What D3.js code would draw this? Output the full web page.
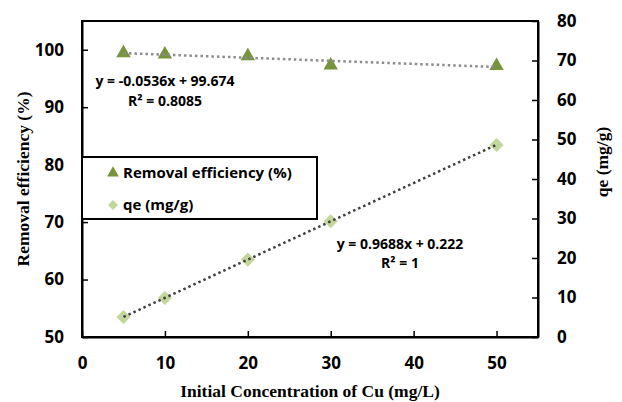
<!DOCTYPE html>
<html>
<head>
<meta charset="utf-8">
<script src="https://cdn.jsdelivr.net/npm/d3@7"></script>
<style>
  body { margin: 0; background: #fff; }
  .tick text { font-family: "Open Sans", sans-serif; font-weight: 700; font-size: 17px; fill: #000; }
  .axisTitle { font-family: "Liberation Serif", serif; font-weight: 700; font-size: 17.5px; fill: #000; }
  .eqText { font-family: "Open Sans", sans-serif; font-weight: 700; font-size: 14px; fill: #000; }
  .legendText { font-family: "Open Sans", sans-serif; font-weight: 700; font-size: 15px; fill: #000; }
</style>
</head>
<body>
<div id="chart"></div>
<script>
// data
let concentration = [5, 10, 20, 30, 50];
let removalEff = [99.4, 99.2, 98.9, 97.3, 97.2];
let qe = [5.07, 9.9, 19.6, 29.3, 48.6];
let xTicks = [0, 10, 20, 30, 40, 50];
let leftTicks = [50, 60, 70, 80, 90, 100];
let rightTicks = [0, 10, 20, 30, 40, 50, 60, 70, 80];
let removalFit = { slope: -0.0536, icpt: 99.674, label: "y = -0.0536x + 99.674", r2: "R² = 0.8085" };
let qeFit = { slope: 0.9688, icpt: 0.222, label: "y = 0.9688x + 0.222", r2: "R² = 1" };
let seriesNames = ["Removal efficiency (%)", "qe (mg/g)"];

let svgWidth = 622;
let svgHeight = 402;
let margin = { top: 21, right: 84, bottom: 65, left: 82 };
let plot_width = svgWidth - margin.left - margin.right;
let plot_height = svgHeight - margin.top - margin.bottom;

let svg = d3.select("#chart").append("svg")
  .attr("width", svgWidth)
  .attr("height", svgHeight);

let chartGroup = svg.append("g")
  .attr("transform", `translate(${margin.left}, ${margin.top})`);

let x = d3.scaleLinear().domain([0, 55]).range([0, plot_width]);
let yLeft = d3.scaleLinear().domain([50, 105]).range([plot_height, 0]);
let yRight = d3.scaleLinear().domain([0, 80]).range([plot_height, 0]);

// frame
chartGroup.append("rect")
  .attr("width", plot_width).attr("height", plot_height)
  .attr("fill", "none").attr("stroke", "#000").attr("stroke-width", 2);

// axes, ticks pointing inwards
let bottomAxis = d3.axisBottom(x).tickValues(xTicks).tickSizeInner(-6).tickSizeOuter(0).tickPadding(20);
let leftAxis = d3.axisLeft(yLeft).tickValues(leftTicks).tickSizeInner(-6).tickSizeOuter(0).tickPadding(18);
let rightAxis = d3.axisRight(yRight).tickValues(rightTicks).tickSizeInner(-6).tickSizeOuter(0).tickPadding(19);

function styleAxis(g) {
  g.select(".domain").attr("stroke", "#000").attr("stroke-width", 2);
  g.selectAll(".tick line").attr("stroke", "#000").attr("stroke-width", 1.5);
}

chartGroup.append("g").attr("transform", `translate(0, ${plot_height})`).call(bottomAxis).call(styleAxis);
chartGroup.append("g").call(leftAxis).call(styleAxis);
chartGroup.append("g").attr("transform", `translate(${plot_width}, 0)`).call(rightAxis).call(styleAxis);

// markers
let tri = d3.symbol().type(d3.symbolTriangle).size(90);
let dia = d3.symbol().type(d3.symbolSquare).size(100);

chartGroup.selectAll(".tri").data(concentration).enter().append("path")
  .attr("class", "tri")
  .attr("d", tri)
  .attr("transform", (d, i) => `translate(${x(d)}, ${yLeft(removalEff[i])})`)
  .attr("fill", "#77933c");

chartGroup.selectAll(".dia").data(concentration).enter().append("path")
  .attr("class", "dia")
  .attr("d", dia)
  .attr("transform", (d, i) => `translate(${x(d)}, ${yRight(qe[i])}) rotate(45)`)
  .attr("fill", "#c3d69b");

// trend lines
let x0 = d3.min(concentration), x1 = d3.max(concentration);
chartGroup.append("line")
  .attr("x1", x(x0)).attr("y1", yLeft(removalFit.icpt + removalFit.slope * x0))
  .attr("x2", x(x1)).attr("y2", yLeft(removalFit.icpt + removalFit.slope * x1))
  .attr("stroke", "#8c8c8c").attr("stroke-width", 2.5).attr("stroke-dasharray", "2.5,3");

chartGroup.append("line")
  .attr("x1", x(x0)).attr("y1", yRight(qeFit.icpt + qeFit.slope * x0))
  .attr("x2", x(x1)).attr("y2", yRight(qeFit.icpt + qeFit.slope * x1))
  .attr("stroke", "#404040").attr("stroke-width", 2.5).attr("stroke-dasharray", "2.5,3");

// equations
chartGroup.append("text").attr("class", "eqText").attr("x", 83).attr("y", 65).attr("text-anchor", "middle").text(removalFit.label);
chartGroup.append("text").attr("class", "eqText").attr("x", 83).attr("y", 85).attr("text-anchor", "middle").text(removalFit.r2);
chartGroup.append("text").attr("class", "eqText").attr("x", 318).attr("y", 228).attr("text-anchor", "middle").text(qeFit.label);
chartGroup.append("text").attr("class", "eqText").attr("x", 318).attr("y", 247).attr("text-anchor", "middle").text(qeFit.r2);

// legend
let legend = chartGroup.append("g").attr("transform", "translate(0, 136)");
legend.append("rect").attr("width", 235).attr("height", 62)
  .attr("fill", "#fff").attr("stroke", "#000").attr("stroke-width", 2);
legend.append("path").attr("d", d3.symbol().type(d3.symbolTriangle).size(60))
  .attr("transform", "translate(31, 16)").attr("fill", "#77933c");
legend.append("path").attr("d", d3.symbol().type(d3.symbolSquare).size(50))
  .attr("transform", "translate(31, 48) rotate(45)").attr("fill", "#c3d69b");
legend.append("text").attr("class", "legendText").attr("x", 41).attr("y", 21).text(seriesNames[0]);
legend.append("text").attr("class", "legendText").attr("x", 41).attr("y", 53).text(seriesNames[1]);

// axis titles
svg.append("text").attr("class", "axisTitle")
  .attr("transform", `translate(29, ${margin.top + plot_height / 2}) rotate(-90)`)
  .attr("text-anchor", "middle").text("Removal efficiency (%)");

svg.append("text").attr("class", "axisTitle")
  .attr("transform", `translate(${margin.left + plot_width / 2}, 397)`)
  .attr("text-anchor", "middle").text("Initial Concentration of Cu (mg/L)");

svg.append("text").attr("class", "axisTitle")
  .attr("transform", `translate(608, 162) rotate(-90)`)
  .attr("text-anchor", "middle").text("qe (mg/g)");
</script>
</body>
</html>
